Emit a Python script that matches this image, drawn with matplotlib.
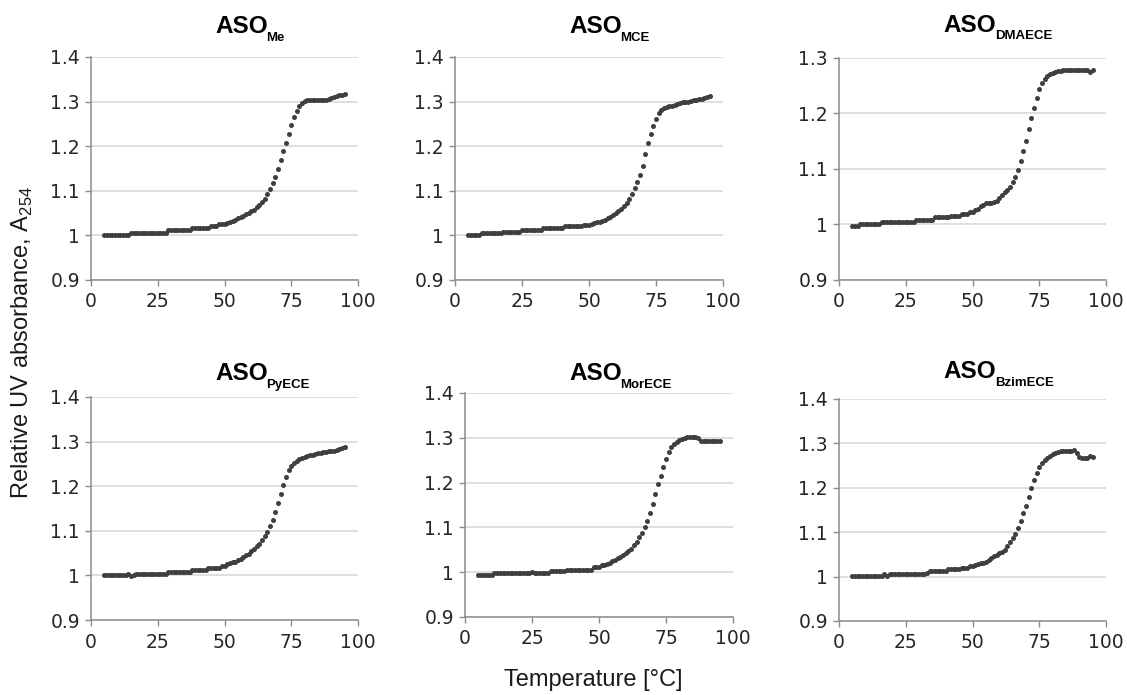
import matplotlib
matplotlib.use("Agg")
import matplotlib.pyplot as plt

plt.rcParams['mathtext.fontset'] = 'custom'
plt.rcParams['mathtext.rm'] = 'Liberation Sans'
plt.rcParams['mathtext.bf'] = 'Liberation Sans:bold'

W, H = 1127, 695

# temperature grid, one reading per degree
temps = list(range(5, 96))

names = ['Me', 'MCE', 'DMAECE', 'PyECE', 'MorECE', 'BzimECE']

aso_me = ([1.000] * 10 + [1.006] * 14 + [1.011] * 9 + [1.016] * 7 + [1.021] * 3 + [1.025] * 3 +
          [1.028, 1.031, 1.033, 1.035, 1.038, 1.041, 1.044, 1.048, 1.051, 1.054,
           1.058, 1.063, 1.069, 1.075, 1.082, 1.093, 1.105, 1.118, 1.132, 1.150,
           1.170, 1.190, 1.208, 1.228, 1.248, 1.265, 1.279, 1.290, 1.297, 1.301] +
          [1.303] * 8 + [1.306, 1.309, 1.311, 1.312, 1.314, 1.315, 1.318])

aso_mce = ([1.000] * 5 + [1.005] * 8 + [1.008] * 7 + [1.012] * 8 + [1.016] * 8 + [1.021] * 7 + [1.024] * 3 +
           [1.026, 1.028, 1.030, 1.031, 1.033, 1.035, 1.038, 1.042, 1.046, 1.050,
            1.055, 1.060, 1.066, 1.073, 1.082, 1.093, 1.106, 1.120, 1.136, 1.156,
            1.182, 1.207, 1.228, 1.245, 1.260, 1.274, 1.282, 1.286, 1.288, 1.290] +
           [1.291, 1.293, 1.294, 1.296, 1.298, 1.300, 1.300, 1.302, 1.303, 1.304,
            1.305, 1.306, 1.308, 1.310, 1.313])

aso_dmaece = ([0.997] * 3 + [1.001] * 8 + [1.005] * 13 + [1.009] * 7 + [1.013] * 6 + [1.016] * 4 +
              [1.019] * 3 + [1.023] * 2 +
              [1.026, 1.028, 1.033, 1.036, 1.038, 1.039, 1.039, 1.040, 1.042, 1.047,
               1.053, 1.058, 1.062, 1.068, 1.077, 1.086, 1.098, 1.114, 1.132, 1.151,
               1.172, 1.192, 1.210, 1.228, 1.244, 1.255, 1.263, 1.268, 1.271, 1.273] +
              [1.275, 1.276, 1.277] + [1.278] * 10 + [1.274, 1.278])

aso_pyece = ([1.000] * 9 + [1.003, 0.999, 1.002] + [1.004] * 12 + [1.008] * 9 + [1.012] * 6 +
             [1.017] * 5 + [1.021] * 2 +
             [1.025, 1.027, 1.029, 1.031, 1.034, 1.037, 1.041, 1.045, 1.049, 1.054,
              1.059, 1.065, 1.071, 1.079, 1.088, 1.098, 1.110, 1.125, 1.142, 1.162,
              1.182, 1.202, 1.220, 1.236, 1.246, 1.252, 1.256, 1.260, 1.263, 1.266] +
             [1.268, 1.270, 1.271, 1.273, 1.274, 1.275, 1.276, 1.277, 1.278, 1.279,
              1.280, 1.281, 1.283, 1.285, 1.288])

aso_morece = ([0.993] * 6 + [0.998] * 14 + [1.000] + [0.998] * 6 + [1.002] * 6 + [1.006] * 10 +
              [1.011] + [1.012] * 2 +
              [1.015, 1.017, 1.019, 1.021, 1.024, 1.027, 1.031, 1.035, 1.039, 1.043,
               1.047, 1.052, 1.060, 1.068, 1.078, 1.088, 1.100, 1.115, 1.133, 1.153,
               1.175, 1.196, 1.215, 1.235, 1.253, 1.268, 1.280, 1.287, 1.291, 1.294] +
              [1.297, 1.299, 1.301, 1.302, 1.302, 1.302, 1.300] + [1.292] * 8)

aso_bzimece = ([1.001] * 12 + [1.005, 1.001] + [1.006] * 14 + [1.009] + [1.012] * 7 + [1.016] * 5 +
               [1.020] * 3 + [1.025] * 2 +
               [1.027, 1.029, 1.030, 1.030, 1.032, 1.037, 1.043, 1.046, 1.049, 1.053,
                1.056, 1.061, 1.068, 1.077, 1.087, 1.097, 1.110, 1.125, 1.143, 1.160,
                1.180, 1.200, 1.217, 1.233, 1.246, 1.256, 1.263, 1.268, 1.272, 1.276] +
               [1.279, 1.281, 1.282, 1.282, 1.282, 1.282, 1.283, 1.286, 1.278, 1.270,
                1.266, 1.266, 1.268, 1.272, 1.269])

series = [aso_me, aso_mce, aso_dmaece, aso_pyece, aso_morece, aso_bzimece]
y_tops = [1.4, 1.4, 1.3, 1.4, 1.4, 1.4]

# axes boxes in pixels: left, top, right, bottom
boxes = [(91, 57, 358, 280), (455, 57, 723, 280), (839, 58, 1106, 280),
         (91, 397, 358, 620), (465, 393, 733, 617), (839, 399, 1106, 621)]
# title: ASO left x, ASO baseline, subscript left x, subscript baseline
title_pos = [(215, 33, 266, 41), (569, 33, 620, 41), (943, 32, 995, 39),
             (215, 380, 266, 388), (569, 380, 620, 388), (943, 378, 995, 386)]

fig = plt.figure(figsize=(W / 100, H / 100), dpi=100)
fig.patch.set_facecolor('white')

axis_grey = '#8c8c8c'
for vals, top, box, tp, name in zip(series, y_tops, boxes, title_pos, names):
    l, t, r, b = box
    ax = fig.add_axes([l / W, 1 - b / H, (r - l) / W, (b - t) / H])
    ax.plot(temps, vals, 'o', color='#3f3f3f', ms=3.6, mew=0, clip_on=False, zorder=3)
    ax.set_xlim(0, 100)
    ax.set_ylim(0.9, top)
    ax.set_xticks([0, 25, 50, 75, 100])
    yt = [0.9, 1.0, 1.1, 1.2, 1.3, 1.4] if top > 1.35 else [0.9, 1.0, 1.1, 1.2, 1.3]
    ax.set_yticks(yt)
    ax.set_yticklabels([f'{v:g}' for v in yt])
    ax.grid(axis='y', color='#d9d9d9', lw=1.2)
    ax.set_axisbelow(True)
    for s in ['top', 'right']:
        ax.spines[s].set_visible(False)
    for s in ['left', 'bottom']:
        ax.spines[s].set_color(axis_grey)
        ax.spines[s].set_linewidth(1.1)
    ax.tick_params(axis='both', colors=axis_grey, labelcolor='#262626', labelsize=13.5,
                   length=4, width=1)
    ax.tick_params(axis='x', pad=5)
    ax.tick_params(axis='y', pad=4)
    for lab in ax.get_xticklabels() + ax.get_yticklabels():
        lab.set_family('DejaVu Sans')

    fig.text(tp[0] / W, 1 - tp[1] / H, 'ASO', family='Liberation Sans', fontweight='bold',
             fontsize=17.5, ha='left', va='baseline')
    fig.text(tp[2] / W, 1 - tp[3] / H, name, family='Liberation Sans', fontweight='bold',
             fontsize=9.5, ha='left', va='baseline')

fig.text(22 / W, 1 - 342 / H, r'Relative UV absorbance, A$_{254}$', family='Liberation Sans',
         fontsize=17, rotation=90, ha='center', va='center', color='#1a1a1a')
fig.text(593 / W, 1 - 680 / H, 'Temperature [°C]', family='Liberation Sans',
         fontsize=17, ha='center', va='center', color='#1a1a1a')

fig.savefig('out.png', dpi=100, facecolor='white')
